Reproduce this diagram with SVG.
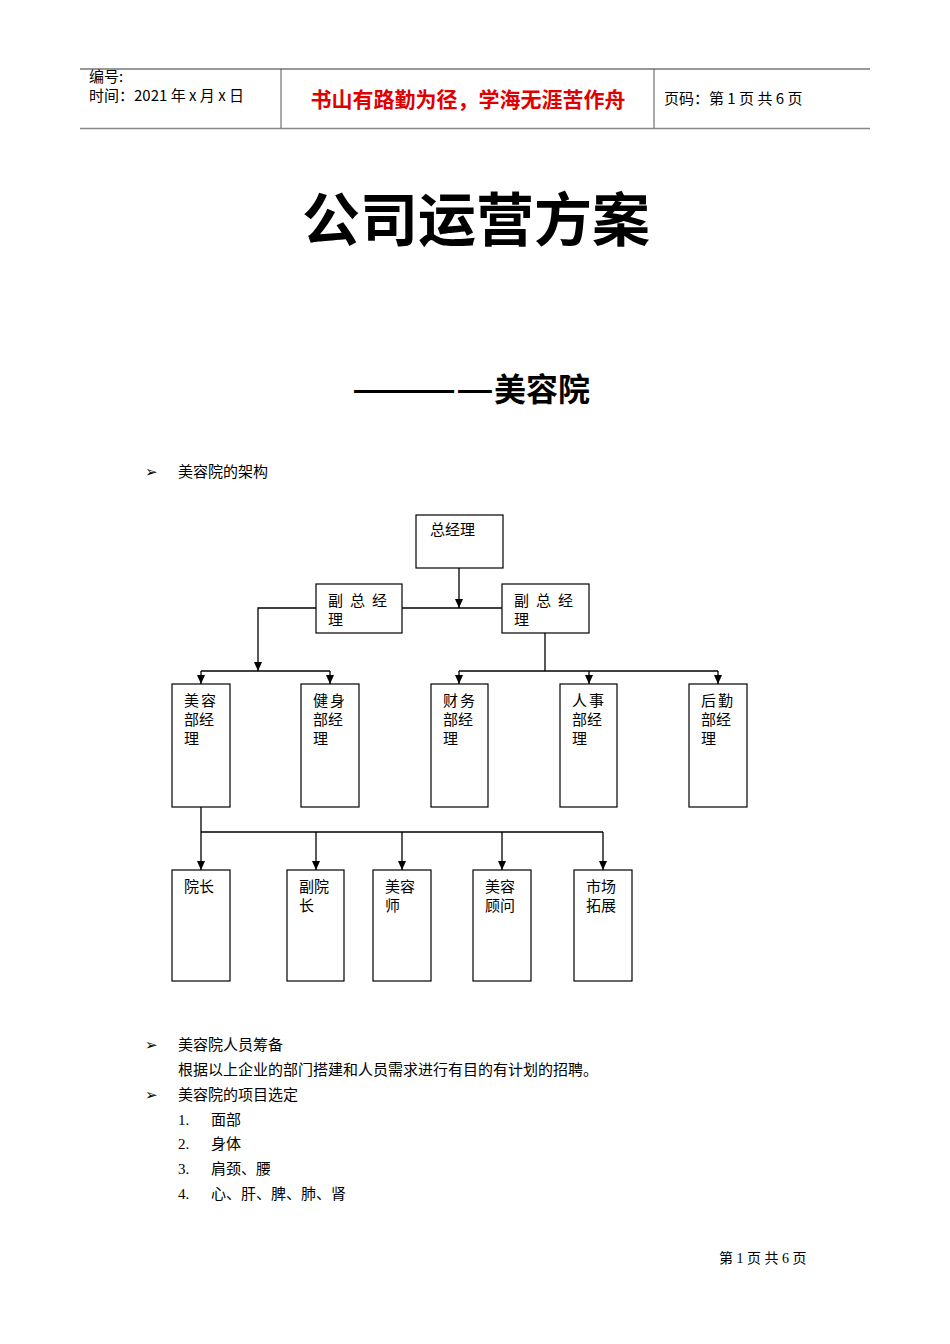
<svg xmlns="http://www.w3.org/2000/svg" width="950" height="1344" viewBox="0 0 950 1344">
<style>
.s{font-family:"Liberation Serif","Noto Sans CJK SC",serif;font-size:15px;fill:#000}
.h{font-family:"Noto Sans CJK SC",sans-serif;font-size:15px;fill:#000}
.b{fill:#fff;stroke:#000;stroke-width:1.2}
.c line,.c polyline{stroke:#000;stroke-width:1.3;fill:none}
</style>
<defs><marker id="a" markerWidth="10" markerHeight="10" refX="9" refY="5" orient="auto" markerUnits="userSpaceOnUse"><path d="M0,1 L9,5 L0,9 Z" fill="#000"/></marker></defs>
<rect width="950" height="1344" fill="#fff"/>
<line x1="80" y1="69" x2="870" y2="69" stroke="#333"/>
<line x1="80" y1="128.5" x2="870" y2="128.5" stroke="#888" stroke-width="1.5"/>
<line x1="281" y1="69" x2="281" y2="128" stroke="#555"/>
<line x1="654" y1="69" x2="654" y2="128" stroke="#555"/>
<text class="h" x="89" y="82">编号:</text>
<text class="h" x="89" y="101">时间：2021 年 x 月 x 日</text>
<text x="468" y="107" text-anchor="middle" style="font-family:'Noto Sans CJK SC',sans-serif;font-size:21px;fill:#e00000;font-weight:bold">书山有路勤为径，学海无涯苦作舟</text>
<text class="h" x="664" y="104">页码：第 1 页 共 6 页</text>
<text x="476" y="241" text-anchor="middle" style="font-family:'Noto Sans CJK SC',sans-serif;font-size:58px;font-weight:bold">公司运营方案</text>
<text x="352" y="401" style="font-family:'Noto Sans CJK SC',sans-serif;font-size:32px;font-weight:bold"><tspan textLength="142" lengthAdjust="spacingAndGlyphs">————</tspan>美容院</text>
<text class="s" x="145" y="477">➢</text><text class="s" x="178" y="477">美容院的架构</text>
<g class="c">
<line x1="459" y1="568" x2="459" y2="608" marker-end="url(#a)"/>
<line x1="402" y1="608" x2="502" y2="608"/>
<polyline points="316,608 258,608 258,671" marker-end="url(#a)"/>
<line x1="201" y1="671" x2="330" y2="671"/>
<line x1="201" y1="671" x2="201" y2="684" marker-end="url(#a)"/>
<line x1="330" y1="671" x2="330" y2="684" marker-end="url(#a)"/>
<line x1="545" y1="633" x2="545" y2="671"/>
<line x1="459" y1="671" x2="718" y2="671"/>
<line x1="459" y1="671" x2="459" y2="684" marker-end="url(#a)"/>
<line x1="589" y1="671" x2="589" y2="684" marker-end="url(#a)"/>
<line x1="718" y1="671" x2="718" y2="684" marker-end="url(#a)"/>
<line x1="201" y1="807" x2="201" y2="832"/>
<line x1="201" y1="832" x2="603" y2="832"/>
<line x1="201" y1="832" x2="201" y2="870" marker-end="url(#a)"/>
<line x1="316" y1="832" x2="316" y2="870" marker-end="url(#a)"/>
<line x1="402" y1="832" x2="402" y2="870" marker-end="url(#a)"/>
<line x1="502" y1="832" x2="502" y2="870" marker-end="url(#a)"/>
<line x1="603" y1="832" x2="603" y2="870" marker-end="url(#a)"/>
</g>
<g id="n0"><rect class="b" x="416" y="515" width="87" height="53"/><text class="s" x="430" y="535">总经理</text></g>
<g id="n1"><rect class="b" x="316" y="584" width="86" height="49"/><text class="s" x="328" y="606" letter-spacing="7">副总经</text><text class="s" x="328" y="625">理</text></g>
<g id="n2"><rect class="b" x="502" y="584" width="87" height="49"/><text class="s" x="514" y="606" letter-spacing="7">副总经</text><text class="s" x="514" y="625">理</text></g>
<g id="n3"><rect class="b" x="172" y="684" width="58" height="123"/><text class="s" x="184" y="706" letter-spacing="2">美容</text><text class="s" x="184" y="725">部经</text><text class="s" x="184" y="744">理</text></g>
<g id="n4"><rect class="b" x="301" y="684" width="58" height="123"/><text class="s" x="313" y="706" letter-spacing="2">健身</text><text class="s" x="313" y="725">部经</text><text class="s" x="313" y="744">理</text></g>
<g id="n5"><rect class="b" x="431" y="684" width="57" height="123"/><text class="s" x="443" y="706" letter-spacing="2">财务</text><text class="s" x="443" y="725">部经</text><text class="s" x="443" y="744">理</text></g>
<g id="n6"><rect class="b" x="560" y="684" width="57" height="123"/><text class="s" x="572" y="706" letter-spacing="2">人事</text><text class="s" x="572" y="725">部经</text><text class="s" x="572" y="744">理</text></g>
<g id="n7"><rect class="b" x="689" y="684" width="58" height="123"/><text class="s" x="701" y="706" letter-spacing="2">后勤</text><text class="s" x="701" y="725">部经</text><text class="s" x="701" y="744">理</text></g>
<g id="n8"><rect class="b" x="172" y="870" width="58" height="111"/><text class="s" x="184" y="892">院长</text></g>
<g id="n9"><rect class="b" x="287" y="870" width="57" height="111"/><text class="s" x="299" y="892">副院</text><text class="s" x="299" y="911">长</text></g>
<g id="n10"><rect class="b" x="373" y="870" width="58" height="111"/><text class="s" x="385" y="892">美容</text><text class="s" x="385" y="911">师</text></g>
<g id="n11"><rect class="b" x="473" y="870" width="58" height="111"/><text class="s" x="485" y="892">美容</text><text class="s" x="485" y="911">顾问</text></g>
<g id="n12"><rect class="b" x="574" y="870" width="58" height="111"/><text class="s" x="586" y="892">市场</text><text class="s" x="586" y="911">拓展</text></g>
<text class="s" x="145" y="1050">➢</text><text class="s" x="178" y="1050">美容院人员筹备</text>
<text class="s" x="178" y="1075">根据以上企业的部门搭建和人员需求进行有目的有计划的招聘。</text>
<text class="s" x="145" y="1100">➢</text><text class="s" x="178" y="1100">美容院的项目选定</text>
<text class="s" x="178" y="1125">1.</text><text class="s" x="211" y="1125">面部</text>
<text class="s" x="178" y="1149">2.</text><text class="s" x="211" y="1149">身体</text>
<text class="s" x="178" y="1174">3.</text><text class="s" x="211" y="1174">肩颈、腰</text>
<text class="s" x="178" y="1199">4.</text><text class="s" x="211" y="1199">心、肝、脾、肺、肾</text>
<text class="s" x="719" y="1263" style="font-size:14px">第 1 页 共 6 页</text>
</svg>
